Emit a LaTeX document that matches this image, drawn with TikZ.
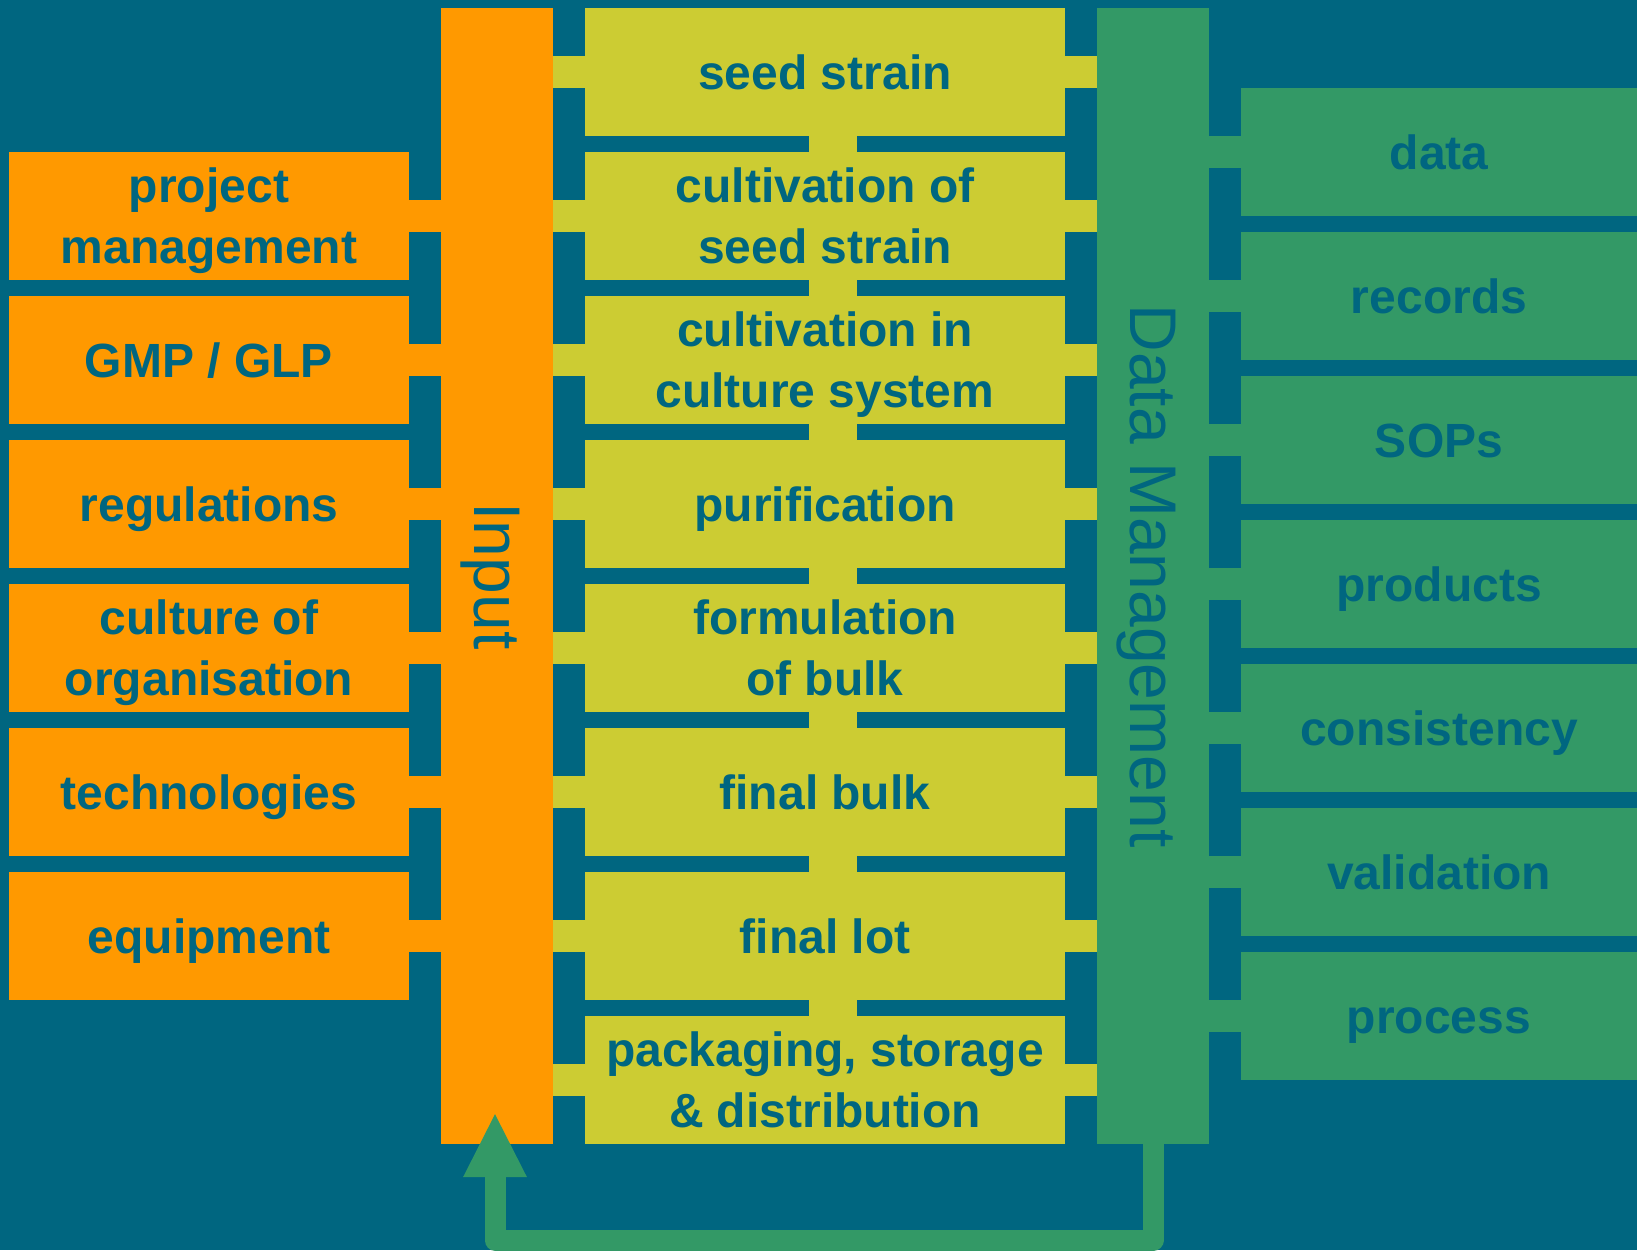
\documentclass[tikz,border=0pt]{standalone}
\usepackage{fontspec}
\setmainfont{Liberation Sans}
\usetikzlibrary{arrows.meta,calc}
\definecolor{bg}{HTML}{006680}
\definecolor{orangec}{HTML}{FF9900}
\definecolor{yellowc}{HTML}{CCCC33}
\definecolor{greenc}{HTML}{339966}
\begin{document}
\begin{tikzpicture}[x=1pt,y=-1pt,
  box/.style={inner sep=0pt, minimum height=128pt, align=center, text=bg,
    font=\fontsize{48}{61}\selectfont\bfseries,
    text height=44pt, text depth=10pt},
  twoline/.style={text height=105pt},
  leftbox/.style={box, fill=orangec, minimum width=400pt},
  stepbox/.style={box, fill=yellowc, minimum width=480pt},
  rightbox/.style={box, fill=greenc, minimum width=396pt},
  bar/.style={inner sep=0pt, minimum width=112pt, minimum height=1136pt},
  barlabel/.style={rotate=-90, inner sep=0pt, text=bg, font=\fontsize{66}{70}\selectfont},
  link/.style={line width=32pt},
  vlink/.style={line width=48pt, yellowc},
]
\useasboundingbox (0,0) rectangle (1637,1250);
\fill[bg] (0,0) rectangle (1637,1250);

% bars
\node[bar, fill=orangec] (input) at (497,576) {};
\node[bar, fill=greenc] (dm) at (1153,576) {};

% left boxes
\node[leftbox, twoline] (L1) at (209,216) {project\\management};
\node[leftbox] (L2) at (209,360) {GMP / GLP};
\node[leftbox] (L3) at (209,504) {regulations};
\node[leftbox, twoline] (L4) at (209,648) {culture of\\organisation};
\node[leftbox] (L5) at (209,792) {technologies};
\node[leftbox] (L6) at (209,936) {equipment};

% process steps
\node[stepbox] (Y1) at (825,72) {seed strain};
\node[stepbox, twoline] (Y2) at (825,216) {cultivation of\\seed strain};
\node[stepbox, twoline] (Y3) at (825,360) {cultivation in\\culture system};
\node[stepbox] (Y4) at (825,504) {purification};
\node[stepbox, twoline] (Y5) at (825,648) {formulation\\of bulk};
\node[stepbox] (Y6) at (825,792) {final bulk};
\node[stepbox] (Y7) at (825,936) {final lot};
\node[stepbox, twoline] (Y8) at (825,1080) {packaging, storage\\\& distribution};

% right boxes
\node[rightbox] (R1) at (1439,152) {data};
\node[rightbox] (R2) at (1439,296) {records};
\node[rightbox] (R3) at (1439,440) {SOPs};
\node[rightbox] (R4) at (1439,584) {products};
\node[rightbox] (R5) at (1439,728) {consistency};
\node[rightbox] (R6) at (1439,872) {validation};
\node[rightbox] (R7) at (1439,1016) {process};

% connectors
\foreach \n in {L1,L2,L3,L4,L5,L6}
  \draw[link, orangec] (\n.east) -- (\n.east -| input.west);
\foreach \n in {Y1,Y2,Y3,Y4,Y5,Y6,Y7,Y8}{
  \draw[link, yellowc] (input.east |- \n.west) -- (\n.west);
  \draw[link, yellowc] (\n.east) -- (\n.east -| dm.west);
}
\foreach \n in {R1,R2,R3,R4,R5,R6,R7}
  \draw[link, greenc] (dm.east |- \n.west) -- (\n.west);
\foreach \a/\b in {Y1/Y2,Y2/Y3,Y3/Y4,Y4/Y5,Y5/Y6,Y6/Y7,Y7/Y8}
  \draw[vlink] ($(\a.south)+(8,0)$) -- ($(\b.north)+(8,0)$);

% bar labels
\node[barlabel] (inlabel) at ($(input.center)+(-7,0)$) {Input};
\node[barlabel] (dmlabel) at ($(dm.center)+(-7,0)$) {Data Management};

% feedback arrow
\coordinate (turn) at (0,1240);
\coordinate (tip) at ($(input.south)+(-2,-30)$);
\draw[greenc, line width=21pt, line join=round,
  -{Triangle[width=64pt,length=63pt,line width=0pt]}]
  (dm.south) -- (dm.south |- turn) -| (tip);
\end{tikzpicture}
\end{document}
